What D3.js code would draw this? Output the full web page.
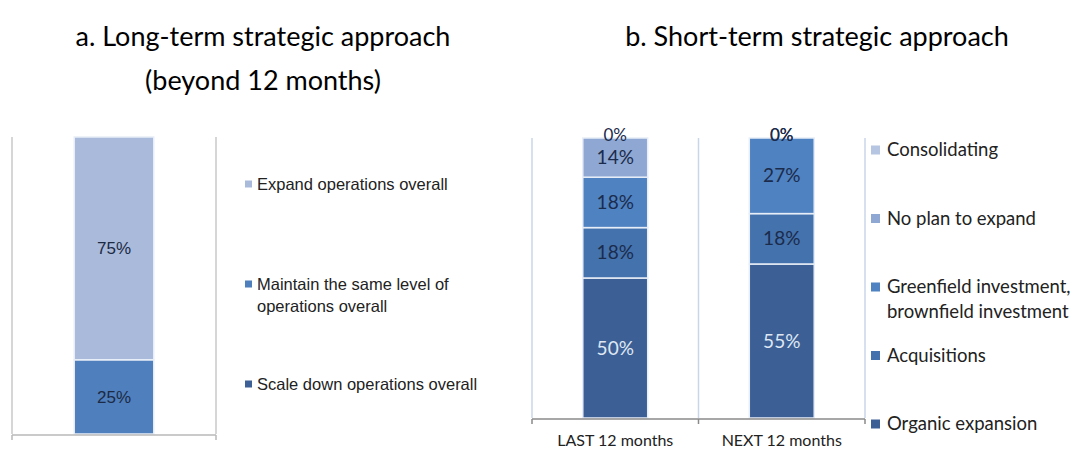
<!DOCTYPE html>
<html>
<head>
<meta charset="utf-8">
<script src="https://cdn.jsdelivr.net/npm/d3@7"></script>
<style>
  body { margin: 0; background: #fff; }
  svg { display: block; }
</style>
</head>
<body>
<script>

// ---- data: a. long-term ----
var longCategories = ["Long-term"];
var longSeries = ["Scale down operations overall",
                  "Maintain the same level of operations overall",
                  "Expand operations overall"];
var longScaleDown = [0],
    longMaintain = [25],
    longExpand = [75];

// ---- data: b. short-term ----
var shortCategories = ["LAST 12 months", "NEXT 12 months"];
var shortSeries = ["Organic expansion", "Acquisitions",
                   "Greenfield investment, brownfield investment",
                   "No plan to expand", "Consolidating"];
var organic = [50, 55],
    acquisitions = [18, 18],
    greenfield = [18, 27],
    noPlan = [14, 0],
    consolidating = [0, 0];

var width = 1077, height = 452;

var svg = d3.select("body").append("svg")
    .attr("width", width)
    .attr("height", height);

var titleFont = "Lato, 'Open Sans', sans-serif";

// titles
svg.append("text").attr("x", 263).attr("y", 46)
    .attr("text-anchor", "middle").style("font", "27px " + titleFont)
    .text("a. Long-term strategic approach");
svg.append("text").attr("x", 263).attr("y", 90)
    .attr("text-anchor", "middle").style("font", "27px " + titleFont)
    .text("(beyond 12 months)");
svg.append("text").attr("x", 817).attr("y", 46)
    .attr("text-anchor", "middle").style("font", "27px " + titleFont)
    .text("b. Short-term strategic approach");

function buildRows(cats, names, cols) {
    return cats.map(function(c, i) {
        var row = {cat: c};
        names.forEach(function(n, j) { row[n] = cols[j][i]; });
        return row;
    });
}

function drawPanel(opt) {
    var g = svg.append("g");
    var rows = buildRows(opt.categories, opt.series, opt.values);
    var stacked = d3.stack().keys(opt.series)(rows);

    var x = d3.scaleBand()
        .domain(opt.categories)
        .range(opt.xRange)
        .padding(0);
    var y = d3.scaleLinear()
        .domain([0, 100])
        .range(opt.yRange);
    var barW = x.bandwidth() * 0.39;
    var color = d3.scaleOrdinal().domain(opt.series).range(opt.colors);

    // vertical separators at category boundaries
    var bounds = opt.categories.map(function(c) { return x(c); })
        .concat([opt.xRange[1]]);
    g.selectAll(".vgrid").data(bounds).enter().append("line")
        .attr("x1", function(d) { return d; })
        .attr("x2", function(d) { return d; })
        .attr("y1", y(100))
        .attr("y2", y(0))
        .attr("stroke", opt.gridColor)
        .attr("stroke-width", 1.5);

    // segments
    var layer = g.selectAll(".layer").data(stacked).enter().append("g")
        .attr("fill", function(d) { return color(d.key); });
    layer.selectAll("rect").data(function(d) { return d; }).enter().append("rect")
        .attr("x", function(d) { return x(d.data.cat) + (x.bandwidth() - barW) / 2; })
        .attr("width", barW)
        .attr("y", function(d) { return y(d[1]); })
        .attr("height", function(d) { return y(d[0]) - y(d[1]); })
        .attr("stroke", "#e8eef8")
        .attr("stroke-width", function(d) { return d[1] > d[0] ? 1.5 : 0; });

    // baseline and ticks
    g.append("line")
        .attr("x1", opt.xRange[0]).attr("x2", opt.xRange[1])
        .attr("y1", y(0) + 1).attr("y2", y(0) + 1)
        .attr("stroke", opt.axisColor).attr("stroke-width", 1.5);
    g.selectAll(".tick").data(bounds).enter().append("line")
        .attr("x1", function(d) { return d; })
        .attr("x2", function(d) { return d; })
        .attr("y1", y(0) + 1)
        .attr("y2", y(0) + 6)
        .attr("stroke", opt.axisColor).attr("stroke-width", 1.5);

    // value labels (zero labels sit a little higher, on the bar top)
    stacked.forEach(function(s) {
        s.forEach(function(d) {
            var v = d[1] - d[0];
            if (v === 0 && !opt.showZero) return;
            g.append("text")
                .attr("x", x(d.data.cat) + x.bandwidth() / 2)
                .attr("y", (y(d[0]) + y(d[1])) / 2 - (v === 0 ? 3 : 0))
                .attr("dy", "0.35em")
                .attr("text-anchor", "middle")
                .style("font", v === 0 ? opt.zeroFont : opt.labelFont)
                .attr("fill", opt.labelColor(s.key, v))
                .text(v + "%");
        });
    });

    // category labels
    if (opt.showCats) {
        g.selectAll(".cat").data(opt.categories).enter().append("text")
            .attr("x", function(d) { return x(d) + x.bandwidth() / 2; })
            .attr("y", y(0) + 28)
            .attr("text-anchor", "middle")
            .style("font", opt.catFont)
            .attr("fill", "#222")
            .text(function(d) { return d; });
    }

    // legend (top to bottom = reverse stack order)
    var legendItems = opt.series.slice().reverse();
    var leg = g.selectAll(".leg").data(legendItems).enter().append("g")
        .attr("transform", function(d, i) {
            return "translate(" + opt.legendX + "," + (opt.legendY + i * opt.legendStep) + ")";
        });
    leg.append("rect")
        .attr("x", 0).attr("y", -opt.legendBox / 2)
        .attr("width", opt.legendBox).attr("height", opt.legendBox)
        .attr("fill", function(d) { return color(d); });
    leg.each(function(d) {
        var lines = opt.legendLines[d] || [d];
        var t = d3.select(this).append("text")
            .attr("x", opt.legendBox + opt.legendGap)
            .attr("y", 0)
            .style("font", opt.legendFont)
            .attr("fill", "#222");
        lines.forEach(function(l, k) {
            t.append("tspan")
                .attr("x", opt.legendBox + opt.legendGap)
                .attr("dy", k === 0 ? "0.35em" : opt.legendLineH)
                .text(l);
        });
    });
}

// a. long-term panel
drawPanel({
    categories: longCategories,
    series: longSeries,
    values: [longScaleDown, longMaintain, longExpand],
    colors: ["#3d6196", "#4f7fbd", "#a9badb"],
    xRange: [12, 216],
    yRange: [434, 137],
    gridColor: "#c8c8c8",
    axisColor: "#b8b8b8",
    showZero: false,
    showCats: false,
    labelFont: "17px 'Liberation Sans', Arial, sans-serif",
    zeroFont: "17px 'Liberation Sans', Arial, sans-serif",
    labelColor: function() { return "#1c2a44"; },
    legendX: 245,
    legendY: 184,
    legendStep: 100,
    legendBox: 7,
    legendGap: 5,
    legendLineH: 22,
    legendFont: "16.5px 'Liberation Sans', Arial, sans-serif",
    legendLines: {
        "Maintain the same level of operations overall":
            ["Maintain the same level of", "operations overall"]
    }
});

// b. short-term panel
drawPanel({
    categories: shortCategories,
    series: shortSeries,
    values: [organic, acquisitions, greenfield, noPlan, consolidating],
    colors: ["#3c6096", "#4472ad", "#4f82c1", "#8fa8d3", "#b6c5e2"],
    xRange: [532, 865],
    yRange: [418, 138],
    gridColor: "#c9d6ea",
    axisColor: "#8a8a8a",
    showZero: true,
    showCats: true,
    labelFont: "19px Lato, 'Open Sans', sans-serif",
    zeroFont: "17px Lato, 'Open Sans', sans-serif",
    labelColor: function(key, v) {
        return key === "Organic expansion" ? "#dfe7f3" : "#1b2b4b";
    },
    catFont: "16px Lato, 'Open Sans', sans-serif",
    legendX: 871,
    legendY: 150,
    legendStep: 68.5,
    legendBox: 9,
    legendGap: 7,
    legendLineH: 25,
    legendFont: "18.5px Lato, 'Open Sans', sans-serif",
    legendLines: {
        "Greenfield investment, brownfield investment":
            ["Greenfield investment,", "brownfield investment"]
    }
});

</script>
</body>
</html>
